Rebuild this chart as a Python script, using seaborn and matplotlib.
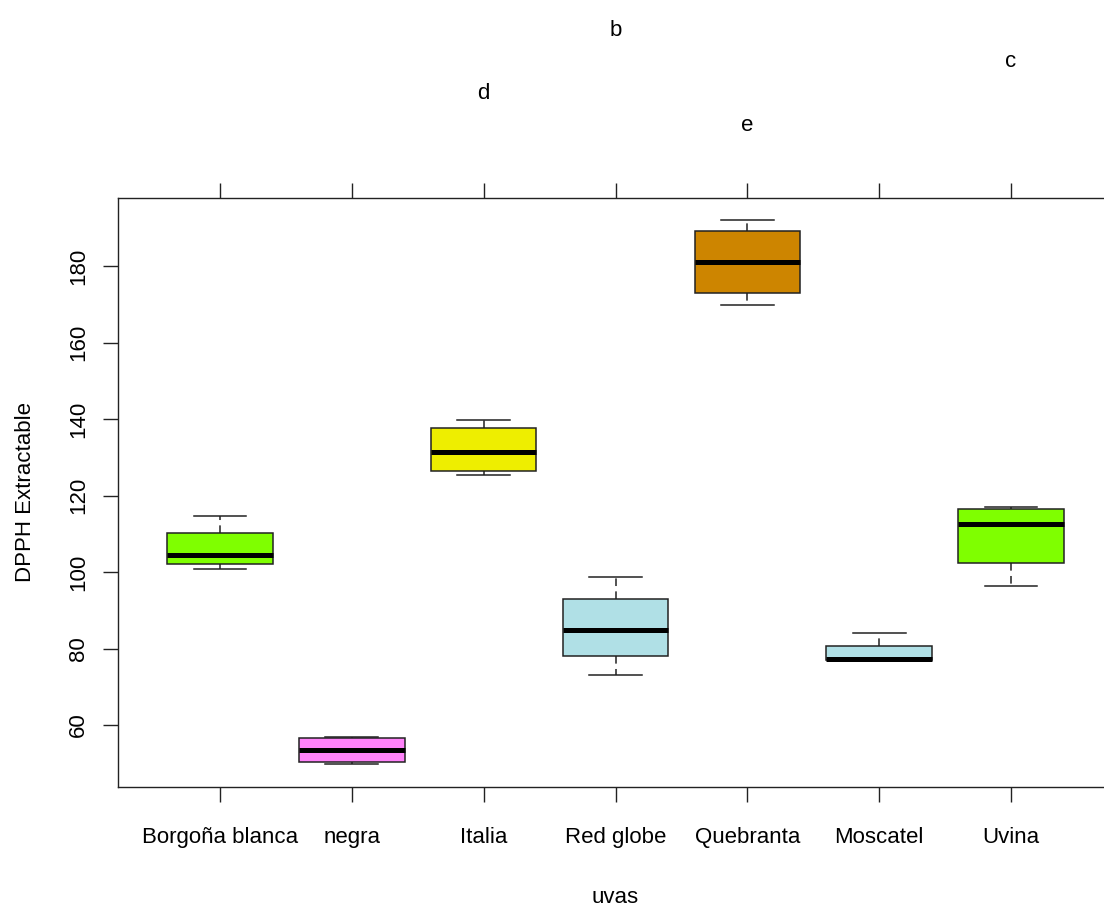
import matplotlib
matplotlib.use("Agg")
import matplotlib.pyplot as plt
import pandas as pd
import seaborn as sns

# --- datos (5 valores por uva: min, Q1, mediana, Q3, max) ---
uvas = ["Borgoña blanca", "negra", "Italia", "Red globe", "Quebranta", "Moscatel", "Uvina"]
borgona = [100.7, 102.0, 104.4, 110.1, 114.7]
negra = [49.7, 50.4, 53.6, 56.6, 57.0]
italia = [125.3, 126.5, 131.3, 137.7, 139.8]
red_globe = [73.0, 78.0, 84.8, 93.0, 98.6]
quebranta = [169.9, 172.9, 181.0, 189.1, 192.1]
moscatel = [77.0, 77.0, 77.3, 80.7, 84.0]
uvina = [96.4, 102.4, 112.6, 116.4, 116.9]
colores = ["#7FFF00", "#FF83FA", "#EEEE00", "#B0E0E6", "#CD8500", "#B0E0E6", "#7FFF00"]

# letras de significancia arriba del gráfico
letra_uva = ["Italia", "Red globe", "Quebranta", "Uvina"]
letras = ["d", "b", "e", "c"]
letra_y = [223.7, 240.2, 215.4, 232.0]

valores = [borgona, negra, italia, red_globe, quebranta, moscatel, uvina]
df = pd.DataFrame(
    [(u, v) for u, vals in zip(uvas, valores) for v in vals],
    columns=["uvas", "dpph"],
)

plt.rcParams["font.family"] = ["Liberation Sans", "DejaVu Sans"]

fig = plt.figure(figsize=(11.04, 9.09), dpi=100)
ax = fig.add_axes([118 / 1104, 122 / 909, 995 / 1104, 589 / 909])

sns.boxplot(
    data=df,
    x="uvas",
    y="dpph",
    hue="uvas",
    order=uvas,
    hue_order=uvas,
    palette=dict(zip(uvas, colores)),
    saturation=1,
    legend=False,
    width=0.8,
    linecolor="#222222",
    linewidth=1.1,
    medianprops={"color": "black", "linewidth": 3.6},
    whiskerprops={"linestyle": (0, (5, 3.5))},
    ax=ax,
)

for u, l, y in zip(letra_uva, letras, letra_y):
    ax.text(uvas.index(u), y, l, ha="center", va="baseline", fontsize=16, clip_on=False)

ax.set_xlim(-0.774, 6.774)
ax.set_ylim(43.8, 197.8)
ax.set_yticks(range(60, 181, 20))
ax.tick_params(axis="both", length=10.8, width=1.0, color="#222222", labelsize=16,
               direction="out")
ax.tick_params(axis="x", top=True, labeltop=False, pad=18)
ax.tick_params(axis="y", pad=10)
for lbl in ax.get_yticklabels():
    lbl.set_rotation(90)
    lbl.set_va("center")
for s in ax.spines.values():
    s.set_linewidth(1.0)
    s.set_color("#222222")

ax.set_xlabel("uvas", fontsize=16, labelpad=28)
ax.set_ylabel("DPPH Extractable", fontsize=16, labelpad=23)

fig.savefig("out.png", dpi=100)
